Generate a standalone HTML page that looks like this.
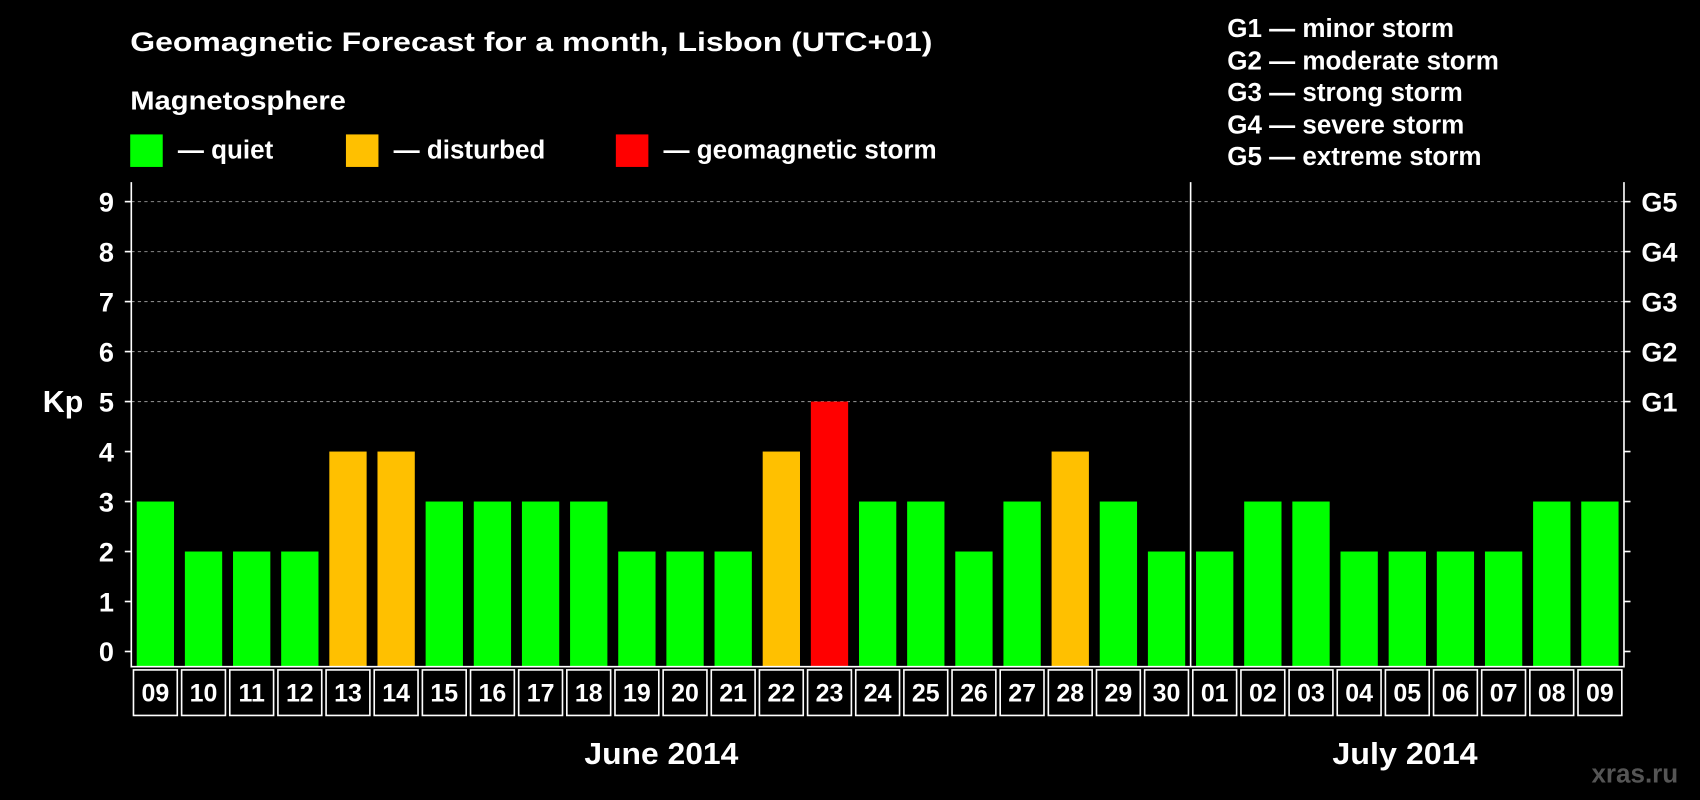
<!DOCTYPE html>
<html><head><meta charset="utf-8"><style>
html,body{margin:0;padding:0;background:#000;}
svg{display:block;}
text{font-family:"Liberation Sans",Arial,sans-serif;font-weight:bold;fill:#fff;}
</style></head><body>
<svg id="chart" width="1700" height="800" viewBox="0 0 1568 738" xmlns="http://www.w3.org/2000/svg">
<rect width="1568" height="738" fill="#000"/>
<text x="120" y="47" font-size="25" textLength="740" lengthAdjust="spacingAndGlyphs">Geomagnetic Forecast for a month, Lisbon (UTC+01)</text>
<text x="120" y="101" font-size="24" textLength="199" lengthAdjust="spacingAndGlyphs">Magnetosphere</text>
<g>
<rect x="120" y="124" width="30" height="30" fill="#00ff00"/>
<text x="164" y="146" font-size="24">— quiet</text>
<rect x="319" y="124" width="30" height="30" fill="#ffc000"/>
<text x="363" y="146" font-size="24">— disturbed</text>
<rect x="568" y="124" width="30" height="30" fill="#ff0000"/>
<text x="612" y="146" font-size="24">— geomagnetic storm</text>
</g>
<g font-size="24">
<text x="1132" y="34">G1 — minor storm</text>
<text x="1132" y="64">G2 — moderate storm</text>
<text x="1132" y="93">G3 — strong storm</text>
<text x="1132" y="123">G4 — severe storm</text>
<text x="1132" y="152">G5 — extreme storm</text>
</g>
<text x="58" y="380" font-size="28" text-anchor="middle">Kp</text>
<text x="610" y="705" font-size="28" text-anchor="middle" textLength="142" lengthAdjust="spacingAndGlyphs">June 2014</text>
<text x="1296" y="705" font-size="28" text-anchor="middle" textLength="134" lengthAdjust="spacingAndGlyphs">July 2014</text>
<text x="1548" y="722" font-size="24" text-anchor="end" style="fill:#555">xras.ru</text>
<g id="plot"></g>
</svg>
<script>
const days = ["09","10","11","12","13","14","15","16","17","18","19","20","21","22","23","24","25","26","27","28","29","30","01","02","03","04","05","06","07","08","09"];
const kpValues = [3,2,2,2,4,4,3,3,3,3,2,2,2,4,5,3,3,2,3,4,3,2,2,3,3,2,2,2,2,3,3];
const yTicks = [0,1,2,3,4,5,6,7,8,9];
const gLabels = ["G1","G2","G3","G4","G5"];
const gLevels = [5,6,7,8,9];
const monthBreakIndex = 22;

const NS = "http://www.w3.org/2000/svg";
const plot = document.getElementById("plot");
const pL = 121, pR = 1498, pT = 168, pB = 615;
const pitch = (pR - pL) / days.length;
function yScale(v){ return 601 - v * (601 - 186) / 9; }
function xScale(i){ return pL + i * pitch; }
function mk(tag, attrs){ const e = document.createElementNS(NS, tag); for (const k in attrs) e.setAttribute(k, attrs[k]); plot.appendChild(e); return e; }
function color(v){ return v >= 5 ? "#ff0000" : (v >= 4 ? "#ffc000" : "#00ff00"); }

gLevels.forEach(function(v){
  const g = mk("line", {x1:pL, x2:pR, y1:yScale(v), y2:yScale(v), stroke:"#888", "stroke-dasharray":"3,3", "stroke-width":1});
  
  
});
kpValues.forEach(function(v, i){
  const r = mk("rect", {x:xScale(i)+5, y:yScale(v), width:pitch-10, height:yScale(0)-yScale(v)+14, fill:color(v)});
  
  
});
const ax = mk("path", {d:"M"+pL+" "+pT+" V"+pB+" H"+pR+" V"+pT, stroke:"#fff", fill:"none", "stroke-width":1.5});


const sep = mk("line", {x1:xScale(monthBreakIndex), x2:xScale(monthBreakIndex), y1:pT, y2:pB, stroke:"#fff", "stroke-width":1.5});


yTicks.forEach(function(v){
  const y = yScale(v);
  const t1 = mk("line", {x1:pL-6, x2:pL, y1:y, y2:y, stroke:"#fff", "stroke-width":1.5});
  
  
  const t2 = mk("line", {x1:pR, x2:pR+6, y1:y, y2:y, stroke:"#fff", "stroke-width":1.5});
  
  
  const lb = mk("text", {x:105, y:y+9, "font-size":25, "text-anchor":"end"});
  lb.textContent = v;
  
  
});
gLabels.forEach(function(g, i){
  const lb = mk("text", {x:1514, y:yScale(gLevels[i])+9, "font-size":25});
  lb.textContent = g;
  
  
});
days.forEach(function(d, i){
  const x = xScale(i);
  const b = mk("rect", {x:x+2, y:618, width:pitch-4, height:42, fill:"#000", stroke:"#fff", "stroke-width":1.5});
  
  
  const t = mk("text", {x:x+pitch/2, y:647, "font-size":23, "text-anchor":"middle"});
  t.textContent = d;
  
  
});
</script>
</body></html>
